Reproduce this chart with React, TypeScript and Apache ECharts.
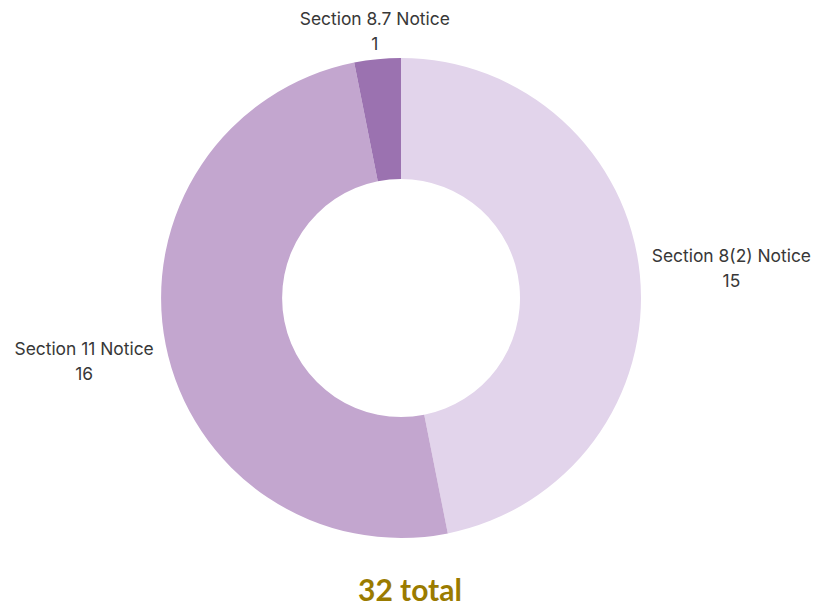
import React, { useEffect, useRef } from "react";
import * as echarts from "echarts";

const categories = ["Section 8(2) Notice", "Section 11 Notice", "Section 8.7 Notice"];
const values = [15, 16, 1];
const colors = ["#e2d4eb", "#c3a6cf", "#9b72b0"];
const totalLabel = `${values.reduce((a, b) => a + b, 0)} total`;

export default function App() {
  const ref = useRef<HTMLDivElement>(null);
  useEffect(() => {
    if (!ref.current) return;
    const chart = echarts.init(ref.current, null, { renderer: "svg" });
    chart.setOption({
      animation: false,
      backgroundColor: "#ffffff",
      series: [
        {
          type: "pie",
          center: [401, 298],
          radius: [119, 240],
          startAngle: 90,
          clockwise: true,
          avoidLabelOverlap: false,
          data: categories.map((name, i) => ({
            name,
            value: values[i],
            itemStyle: { color: colors[i] },
          })),
          label: {
            show: true,
            position: "outside",
            formatter: "{n|{b}}\n{n|{c}}",
            rich: {
              n: {
                align: "center",
                fontFamily: "Inter",
                fontSize: 17.4,
                lineHeight: 25,
                color: "#383838",
              },
            },
          },
          labelLine: { show: false, length: 7, length2: 0 },
          labelLayout: (p: any) => {
            if (p.dataIndex === 2) return { align: "center", verticalAlign: "bottom", dx: 3, dy: 4 };
            if (p.dataIndex === 1) return { dy: 15 };
            return { dy: -6 };
          },
          emphasis: { disabled: true },
        },
      ],
      graphic: [
        {
          type: "text",
          left: 358,
          top: 574,
          style: {
            text: totalLabel,
            fontFamily: "Lato",
            fontWeight: "bold",
            fontSize: 30,
            fill: "#9a7b00",
          },
        },
      ],
    });
    return () => chart.dispose();
  }, []);
  return (
    <div
      ref={ref}
      style={{ position: "fixed", left: 0, top: 0, width: 813, height: 606 }}
    />
  );
}
